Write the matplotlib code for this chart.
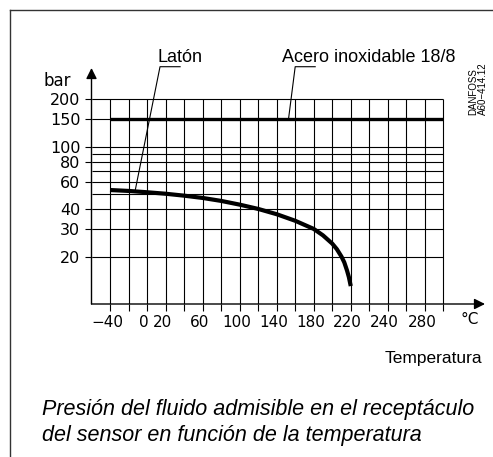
import matplotlib.pyplot as plt
import matplotlib.transforms as mtransforms
from matplotlib.lines import Line2D
from matplotlib.ticker import FixedLocator, NullLocator, NullFormatter

# brass curve (Latón)
temp = [-40, -20, 0, 20, 40, 60, 80, 100, 120, 140, 160, 180, 190, 200, 205, 210, 213, 216, 218, 220]
pressure_brass = [53, 52.3, 51.3, 50.2, 48.8, 47.2, 45.2, 42.8, 40.2, 37.2, 33.8, 30, 27.3, 24.2, 22.3, 20, 18.4, 16.3, 14.8, 13]

# stainless steel (Acero inoxidable 18/8)
steel_temp = [-40, 320]
steel_pressure = [150, 150]

# axes / grid
x_grid = [-40, -20, 0, 20, 40, 60, 80, 100, 120, 140, 160, 180, 200, 220, 240, 260, 280, 300, 320]
y_grid = [20, 30, 40, 50, 60, 70, 80, 90, 100, 150, 200]
x_tick_pos = [-40, 0, 20, 60, 100, 140, 180, 220, 260, 300]
x_tick_labels = ["\u221240", "0", "20", "60", "100", "140", "180", "220", "240", "280"]
y_ticks = [20, 30, 40, 60, 80, 100, 150, 200]
y_tick_labels = ["20", "30", "40", "60", "80", "100", "150", "200"]

# leader lines: (temp, bar)
laton_leader_x = [35.7, 14, -13]
laton_leader_y = [322, 322, 52]
acero_leader_x = [181.6, 160, 152.8]
acero_leader_y = [322, 322, 150]

W, H = 493, 457
fig = plt.figure(figsize=(W / 100, H / 100), dpi=100)
ax = fig.add_axes([91.5 / W, (H - 304) / H, (485 - 91.5) / W, (304 - 68) / H])
ax.set_yscale("log")
ax.set_xlim(-60, 365)
ax.set_ylim(10, 316)

for s in ax.spines.values():
    s.set_visible(False)

# grid
ax.vlines(x_grid, 10, 200, color="k", lw=0.8, zorder=1)
ax.hlines(y_grid, -60, 320, color="k", lw=0.8, zorder=1)

# axis arrows
ax.annotate("", xy=(1, 0), xytext=(0, 0), xycoords="axes fraction",
            arrowprops=dict(arrowstyle="-|>", color="k", lw=1.0, mutation_scale=16, shrinkA=0, shrinkB=0))
ax.annotate("", xy=(0, 1), xytext=(0, 0), xycoords="axes fraction",
            arrowprops=dict(arrowstyle="-|>", color="k", lw=1.0, mutation_scale=16, shrinkA=0, shrinkB=0))

# ticks
ax.xaxis.set_major_locator(FixedLocator(x_tick_pos))
ax.set_xticklabels(x_tick_labels, fontsize=11, family="DejaVu Sans")
ax.xaxis.set_minor_locator(FixedLocator(x_grid))
ax.tick_params(axis="x", which="both", length=5, width=0.8, direction="out", pad=3)
shift = mtransforms.ScaledTranslation(-3 / 100, 0, fig.dpi_scale_trans)
for lbl in ax.get_xticklabels():
    lbl.set_transform(lbl.get_transform() + shift)
ax.yaxis.set_major_locator(FixedLocator(y_ticks))
ax.yaxis.set_minor_locator(NullLocator())
ax.yaxis.set_minor_formatter(NullFormatter())
ax.set_yticklabels(y_tick_labels, fontsize=11.5, family="DejaVu Sans")
ax.tick_params(axis="y", which="major", length=5, width=0.8, direction="out", pad=3)

# data
ax.plot(steel_temp, steel_pressure, color="k", lw=2.4, solid_capstyle="butt", zorder=3)
ax.plot(temp, pressure_brass, color="k", lw=3.0, solid_capstyle="butt", zorder=3)

# leaders and labels
ax.plot(laton_leader_x, laton_leader_y, color="k", lw=0.8, clip_on=False)
ax.plot(acero_leader_x, acero_leader_y, color="k", lw=0.8, clip_on=False)
ax.text(35.7, 345, "Latón", ha="center", va="baseline", fontsize=13, family="Liberation Sans")
ax.text(239.5, 345, "Acero inoxidable 18/8", ha="center", va="baseline", fontsize=13, family="Liberation Sans")

fig.text(57 / W, 1 - 81 / H, "bar", ha="center", va="center", fontsize=12, family="DejaVu Sans")
fig.text(470 / W, 1 - 320 / H, "°C", ha="center", va="center", fontsize=11, family="DejaVu Sans")
fig.text(482 / W, 1 - 358 / H, "Temperatura", ha="right", va="center", fontsize=12.5, family="Liberation Sans")
fig.text(478 / W, 1 - 89 / H, "DANFOSS\nA60\u2212414.12", rotation=90, ha="center", va="center",
         fontsize=7, family="Liberation Sans", multialignment="left", linespacing=1.0)

fig.text(42 / W, 1 - 410 / H, "Presión del fluido admisible en el receptáculo",
         ha="left", va="center", fontsize=15.5, style="italic", family="Liberation Sans")
fig.text(42 / W, 1 - 436 / H, "del sensor en función de la temperatura",
         ha="left", va="center", fontsize=15.5, style="italic", family="Liberation Sans")

# frame
fig.add_artist(Line2D([9.5 / W, 9.5 / W], [0, 1 - 10 / H], color="#333333", lw=1.0))
fig.add_artist(Line2D([9.5 / W, 1], [1 - 10 / H, 1 - 10 / H], color="#333333", lw=1.0))

fig.savefig("out.png", dpi=100)
